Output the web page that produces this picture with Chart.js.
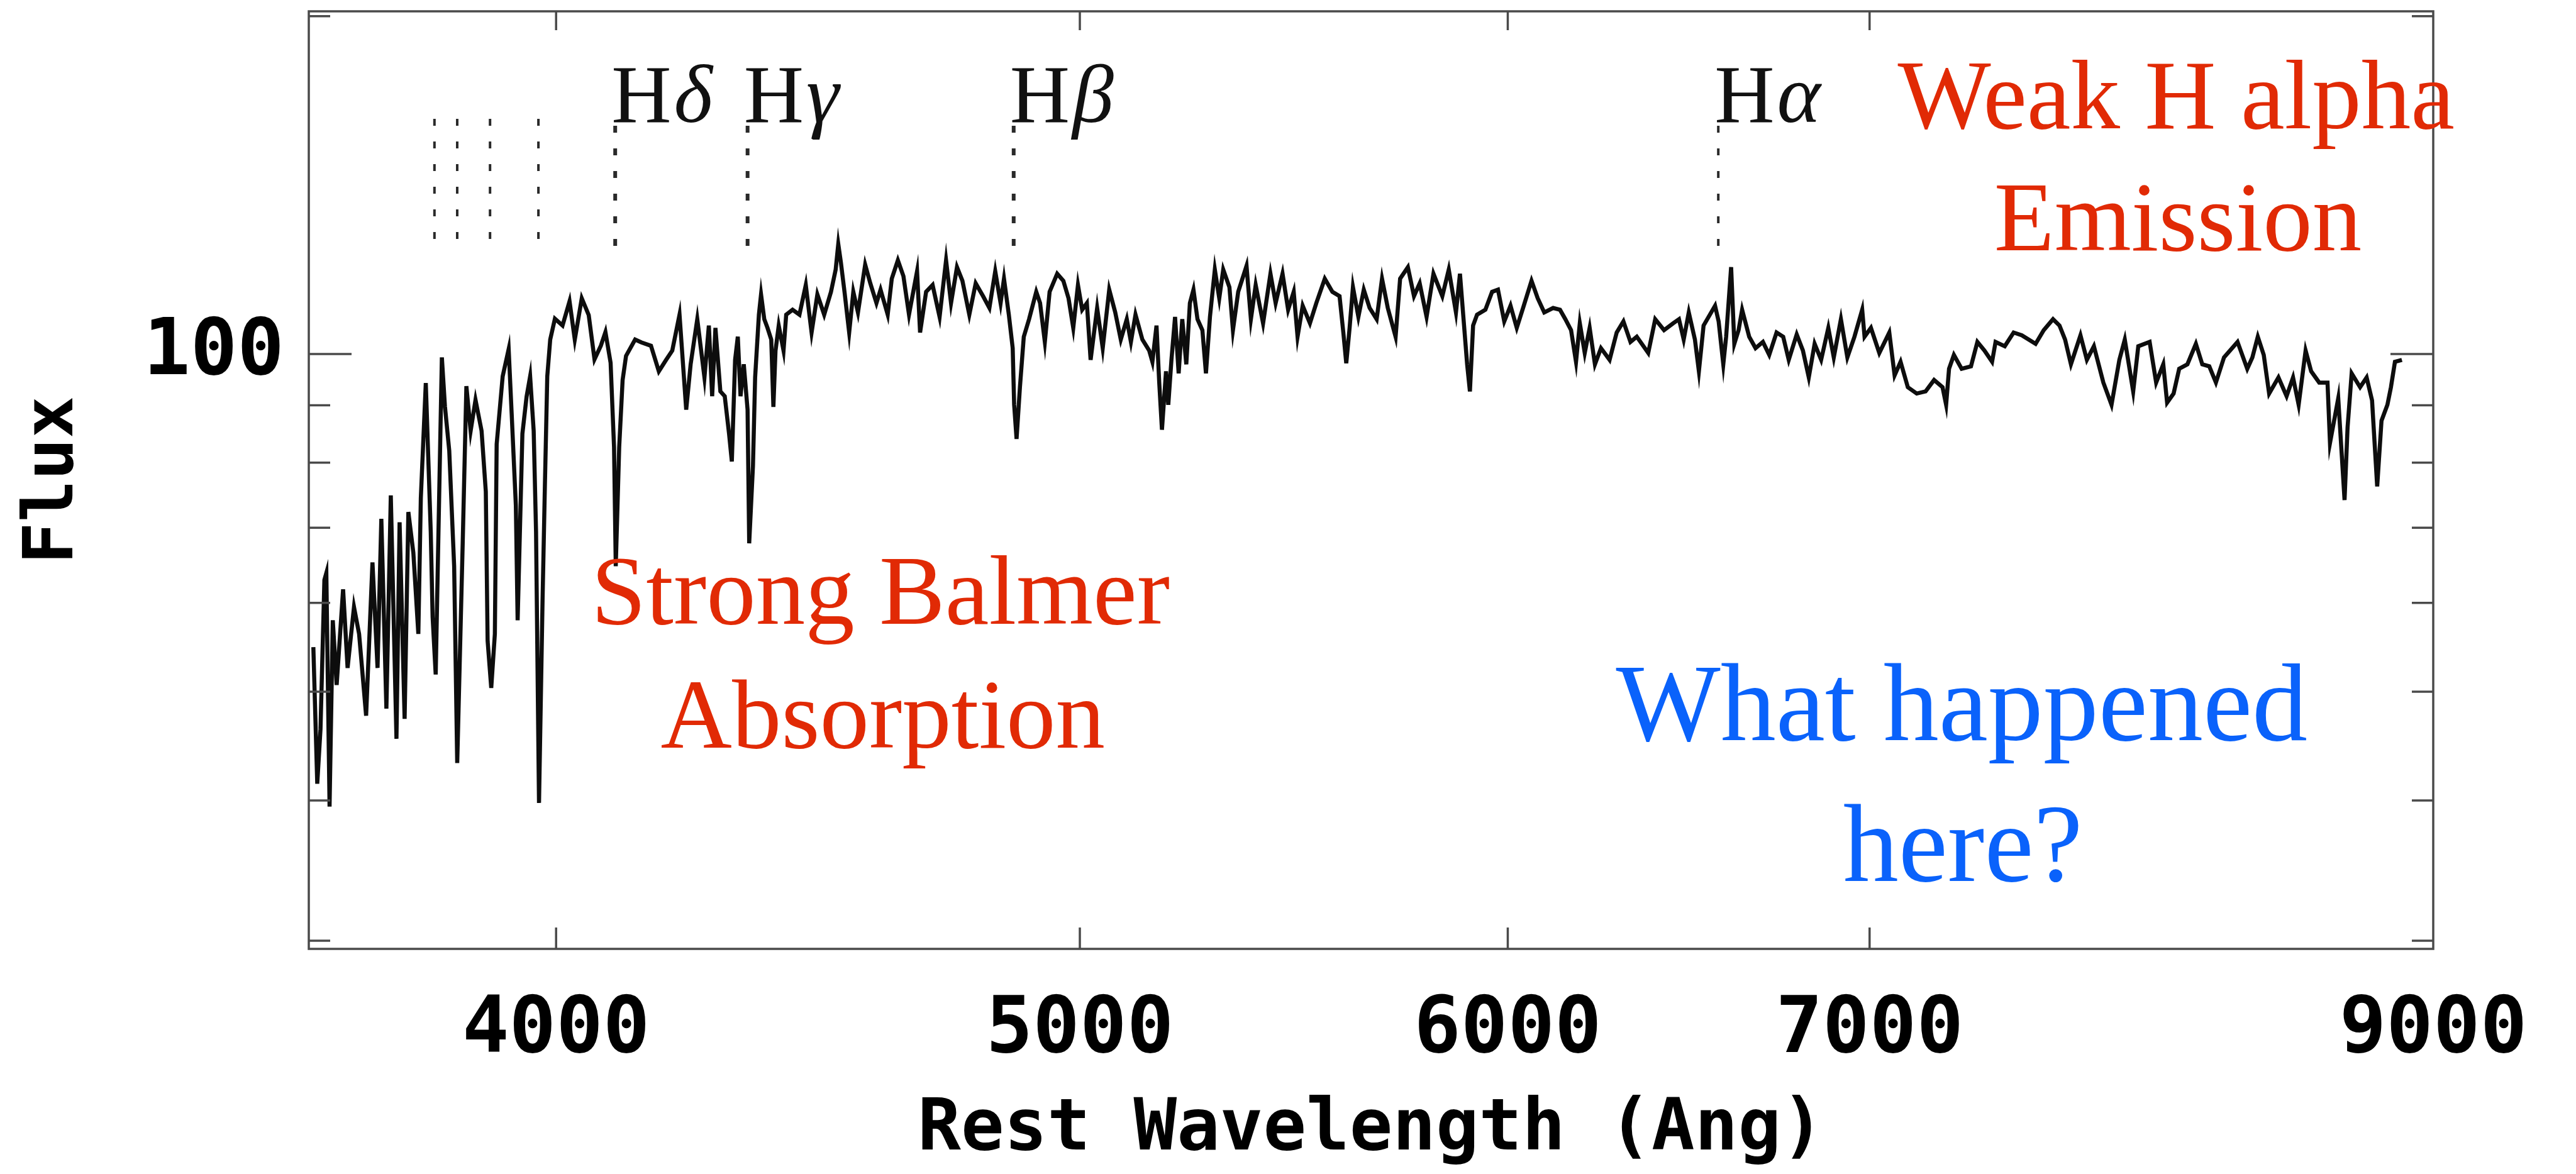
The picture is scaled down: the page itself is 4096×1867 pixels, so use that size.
<!DOCTYPE html>
<html>
<head>
<meta charset="utf-8">
<script src="https://cdn.jsdelivr.net/npm/chart.js@4.4.0/dist/chart.umd.min.js"></script>
<style>
  html, body { margin: 0; padding: 0; background: #ffffff; }
  canvas { display: block; }
</style>
</head>
<body>
<canvas id="c" width="4096" height="1867"></canvas>
<script>
// ---------------- DATA ----------------
const wavelength = [
3607,3613,3618,3624,3627,3632,3637,3643,3653,3660,3670,3678,3689,3699,3707,3713,3721,3728,3737,3742,
3750,3756,3764,3772,3776,3784,3792,3795,3800,3810,3815,3822,3830,3835,3844,3850,3857,3865,3875,3882,
3885,3891,3897,3900,3910,3920,3925,3932,3935,3943,3950,3956,3962,3966,3971,3977,3981,3985,3990,3998,
4011,4023,4032,4044,4056,4066,4077,4085,4094,4100,4103,4109,4115,4121,4137,4148,4165,4179,4192,4203,
4216,4228,4236,4248,4261,4269,4275,4281,4290,4298,4306,4311,4317,4322,4327,4333,4340,4343,4350,4354,
4361,4365,4371,4377,4384,4388,4392,4398,4407,4412,4424,4437,4449,4460,4471,4484,4497,4506,4511,4516,
4523,4532,4540,4549,4563,4573,4585,4593,4607,4615,4627,4638,4649,4665,4671,4683,4696,4710,4723,4733,
4745,4756,4770,4783,4798,4811,4823,4834,4841,4851,4859,4862,4867,4874,4882,4893,4908,4916,4926,4936,
4952,4965,4976,4986,4996,5005,5015,5023,5037,5049,5063,5076,5088,5101,5110,5120,5135,5150,5157,5166,
5172,5178,5187,5192,5199,5207,5215,5223,5232,5240,5248,5257,5268,5276,5285,5296,5306,5315,5329,5337,
5349,5368,5378,5389,5406,5423,5435,5451,5464,5477,5486,5498,5515,5530,5550,5568,5585,5594,5601,5609,
5617,5630,5643,5657,5674,5687,5701,5720,5731,5750,5765,5779,5796,5813,5835,5851,5869,5879,5888,5897,
5904,5912,5922,5943,5960,5975,5991,6007,6023,6041,6061,6077,6094,6117,6135,6149,6164,6177,6187,6200,
6213,6227,6243,6266,6285,6303,6322,6339,6370,6389,6413,6438,6454,6467,6481,6498,6509,6522,6554,6564,
6577,6585,6599,6608,6620,6630,6650,6668,6689,6707,6728,6747,6763,6786,6804,6821,6838,6857,6878,6894,
6915,6934,6955,6978,6985,7004,7029,7059,7075,7093,7115,7142,7169,7195,7221,7232,7241,7256,7280,7309,
7329,7351,7375,7386,7415,7443,7469,7513,7539,7569,7590,7608,7627,7658,7679,7702,7733,7760,7786,7804,
7832,7849,7887,7909,7933,7946,7968,7987,8015,8044,8066,8090,8113,8141,8188,8222,8240,8259,8280,8299,
8332,8361,8384,8404,8429,8449,8478,8508,8517,8547,8570,8581,8596,8627,8651,8671,8690,8706,8728,8741,
8756,8782
];
const flux = [
54.8,41.4,46.3,62.9,63.8,39.5,57.9,50.7,61.7,52.5,59.5,56.3,47.6,65.2,52.5,71.3,48.3,74.8,45.4,70.8,
47.3,72.3,66.5,56.3,74.4,94.2,69.4,58.3,51.8,99.3,89.8,82.0,64.7,43.2,67.9,93.6,85.4,91.0,85.4,75.4,
55.5,50.4,56.3,83.1,95.5,101.0,88.5,73.3,57.9,84.9,91.6,95.5,85.4,69.4,39.8,60.3,76.5,95.5,103.0,107.5,
106.0,111.4,103.0,112.1,108.3,98.9,101.7,104.6,98.2,82.6,64.7,82.6,94.8,99.6,103.0,102.4,101.7,96.5,98.8,100.7,
108.4,89.2,97.9,107.4,95.3,106.0,91.7,105.5,92.6,91.7,84.8,80.2,98.8,103.6,91.7,97.9,89.2,67.8,79.5,95.3,
108.4,113.0,107.4,105.5,103.0,89.7,100.7,106.0,100.7,108.4,109.5,108.4,115.2,104.5,113.0,108.4,113.6,118.9,125.3,120.7,
113.6,104.5,113.6,108.9,120.1,115.6,111.0,114.1,108.4,116.7,121.2,117.3,108.4,118.5,104.5,113.6,115.2,107.9,121.2,111.0,
119.5,116.2,108.4,115.6,112.6,109.9,118.5,111.0,116.7,108.4,101.2,90.1,84.0,93.4,103.6,107.4,113.6,111.0,102.5,113.6,
117.9,116.2,112.1,105.5,115.2,109.5,111.0,98.8,109.9,101.2,114.1,108.9,103.0,107.4,102.5,108.4,103.0,100.7,98.4,106.0,
94.3,85.6,96.5,90.1,98.8,107.9,96.1,107.4,97.9,111.0,114.1,107.4,105.0,96.1,107.9,118.9,112.1,118.9,114.7,105.0,
113.6,119.8,107.4,115.2,106.5,117.9,111.0,117.9,109.5,113.6,103.6,110.4,106.5,111.0,116.7,113.6,112.6,104.5,98.1,105.5,
114.7,107.9,114.1,109.9,107.4,116.7,109.9,103.6,116.7,119.5,112.6,115.6,107.9,117.9,112.6,118.9,108.9,117.9,107.4,97.9,
92.6,106.0,108.4,109.5,113.6,114.1,106.9,110.4,105.5,110.4,116.2,112.1,108.9,109.9,109.5,107.4,105.0,98.4,106.5,100.2,
105.5,97.9,101.2,98.8,104.5,106.9,102.5,103.6,100.2,107.4,105.0,106.5,107.4,103.0,108.9,103.0,96.5,106.0,110.4,106.9,
97.9,103.6,119.5,102.1,105.0,109.5,103.6,101.2,102.5,99.8,104.5,103.6,98.8,104.1,100.7,95.3,102.1,98.8,105.5,99.3,
107.4,99.3,103.6,109.5,103.6,105.5,100.2,104.5,95.7,98.4,93.4,92.2,92.6,94.8,93.4,90.1,97.0,99.8,97.0,97.5,
102.5,100.7,98.4,102.5,101.6,104.5,103.9,102.1,105.0,107.4,106.0,103.0,97.9,103.9,98.8,101.6,94.3,90.1,98.8,103.0,
92.6,101.6,102.5,94.3,97.9,90.5,92.2,97.0,97.9,102.1,97.9,97.5,94.3,99.3,102.5,97.0,99.3,103.6,99.8,92.2,
95.3,91.7,95.3,90.1,100.7,96.5,94.3,94.3,83.3,91.3,74.1,86.0,96.1,93.4,95.3,90.9,76.2,87.2,90.1,93.4,
98.4,98.8
];

// Balmer line markers
const markerWaves  = [3798, 3835, 3889, 3970, 4102, 4340, 4861, 6563];
const markerTop    = [162, 162, 162, 162, 159.7, 159.7, 159.7, 159.7];
const markerBottom = [124.5, 124.5, 124.5, 124.5, 124.5, 124.5, 124.5, 124.2];
const markerGreek  = ['', '', '', '', 'δ', 'γ', 'β', 'α'];

// Axes
const xTickValues = [4000, 5000, 6000, 7000, 8900];
const xTickLabels = ['4000', '5000', '6000', '7000', '9000'];
const yTickValues = [30, 40, 50, 60, 70, 80, 90, 100, 200];
const yTickLabels = ['', '', '', '', '', '', '', '100', ''];
const xTitle = 'Rest Wavelength (Ang)';
const yTitle = 'Flux';

// Annotations (text only)
const noteRed  = ['Weak H alpha', 'Emission', 'Strong Balmer', 'Absorption'];
const noteBlue = ['What happened', 'here?'];

// ---------------- LAYOUT / STYLE ----------------
const S = 0.939;
const MONO = "'DejaVu Sans Mono', 'Liberation Mono', monospace";
const SERIF = "'Liberation Serif', 'DejaVu Serif', serif";

const datasets = [];
markerWaves.forEach((w, i) => {
  datasets.push({
    data: [{x: w, y: markerTop[i]}, {x: w, y: markerBottom[i]}],
    showLine: true, pointRadius: 0, borderColor: '#2a2a2a',
    borderWidth: (i >= 4 && i <= 6) ? 6 : 4,
    borderDash: [11, 25], tension: 0
  });
});
datasets.push({
  data: wavelength.map((w, i) => ({x: w, y: flux[i]})),
  showLine: true, pointRadius: 0, borderColor: '#0d0d0d', borderWidth: 6.5,
  tension: 0, borderJoinStyle: 'miter'
});

const yLabelled = yTickValues.filter((v, i) => yTickLabels[i] !== '');
const yLabelText = yTickLabels.filter((t) => t !== '');

const zeroPad = (s) => { s.paddingTop = 0; s.paddingBottom = 0; s.paddingLeft = 0; s.paddingRight = 0; };

const decor = {
  id: 'decor',
  afterDraw(chart) {
    const {ctx, chartArea: a, scales: {x, y}} = chart;
    ctx.save();
    const seg = (x1, y1, x2, y2) => { ctx.beginPath(); ctx.moveTo(x1, y1); ctx.lineTo(x2, y2); ctx.stroke(); };
    ctx.strokeStyle = '#4a4a4a';
    ctx.lineWidth = 3.5;
    ctx.strokeRect(a.left, a.top, a.right - a.left, a.bottom - a.top);
    yTickValues.forEach((v, i) => {
      const p = y.getPixelForValue(v);
      const len = yTickLabels[i] ? 68 : 34;
      seg(a.left, p, a.left + len, p);
      seg(a.right - len, p, a.right, p);
    });
    xTickValues.forEach((v) => {
      if (v >= x.max) return;
      const p = x.getPixelForValue(v);
      seg(p, a.bottom, p, a.bottom - 34);
      seg(p, a.top, p, a.top + 30);
    });
    ctx.fillStyle = '#111';
    ctx.textBaseline = 'alphabetic';
    ctx.textAlign = 'left';
    markerWaves.forEach((w, i) => {
      if (!markerGreek[i]) return;
      const px = x.getPixelForValue(w) - 6;
      const py = y.getPixelForValue(161);
      ctx.font = `132px ${SERIF}`;
      ctx.fillText('H', px, py);
      const hw = ctx.measureText('H').width;
      ctx.font = `italic 132px ${SERIF}`;
      ctx.fillText(markerGreek[i], px + hw + 4, py);
    });
    ctx.textAlign = 'center';
    ctx.fillStyle = '#e12a05';
    ctx.font = `157px ${SERIF}`;
    ctx.fillText(noteRed[0], 3685 * S, 217 * S);
    ctx.fillText(noteRed[1], 3688 * S, 424 * S);
    ctx.fillText(noteRed[2], 1491 * S, 1056 * S);
    ctx.fillText(noteRed[3], 1495 * S, 1266 * S);
    ctx.fillStyle = '#0a62fb';
    ctx.font = `176px ${SERIF}`;
    ctx.fillText(noteBlue[0], 3322 * S, 1253 * S);
    ctx.fillText(noteBlue[1], 3324 * S, 1492 * S);
    ctx.restore();
  }
};

new Chart(document.getElementById('c'), {
  type: 'scatter',
  data: { datasets },
  options: {
    responsive: false,
    animation: false,
    devicePixelRatio: 1,
    layout: { padding: { left: 0, right: 227, top: 18, bottom: 0 } },
    plugins: { legend: { display: false }, tooltip: { enabled: false } },
    scales: {
      x: {
        type: 'logarithmic', position: 'bottom', min: 3600, max: 8900, bounds: 'data',
        grid: { display: false, drawTicks: false }, border: { display: false },
        afterBuildTicks: (s) => { s.ticks = xTickValues.map(v => ({ value: v })); },
        afterFit: (s) => { s.height = 358; zeroPad(s); },
        ticks: {
          callback: (v, i) => xTickLabels[i], autoSkip: false, maxRotation: 0, minRotation: 0,
          color: '#000', padding: 57, font: { family: MONO, size: 124, weight: 'bold', lineHeight: 1.2 }
        },
        title: {
          display: true, text: xTitle, color: '#000', padding: { top: 0, bottom: 0 },
          font: { family: MONO, size: 114, weight: 'bold', lineHeight: 1.2 }
        }
      },
      y: {
        type: 'logarithmic', position: 'left', min: 29.5, max: 202, bounds: 'data',
        grid: { display: false, drawTicks: false }, border: { display: false },
        afterBuildTicks: (s) => { s.ticks = yLabelled.map(v => ({ value: v })); },
        afterFit: (s) => { s.width = 491; zeroPad(s); },
        ticks: {
          callback: (v, i) => yLabelText[i], autoSkip: false,
          color: '#000', padding: 39, font: { family: MONO, size: 124, weight: 'bold', lineHeight: 1.2 }
        },
        title: {
          display: true, text: yTitle, color: '#000', padding: { top: 20, bottom: 0 },
          font: { family: MONO, size: 111, weight: 'bold', lineHeight: 1.2 }
        }
      }
    }
  },
  plugins: [decor]
});
</script>
</body>
</html>
